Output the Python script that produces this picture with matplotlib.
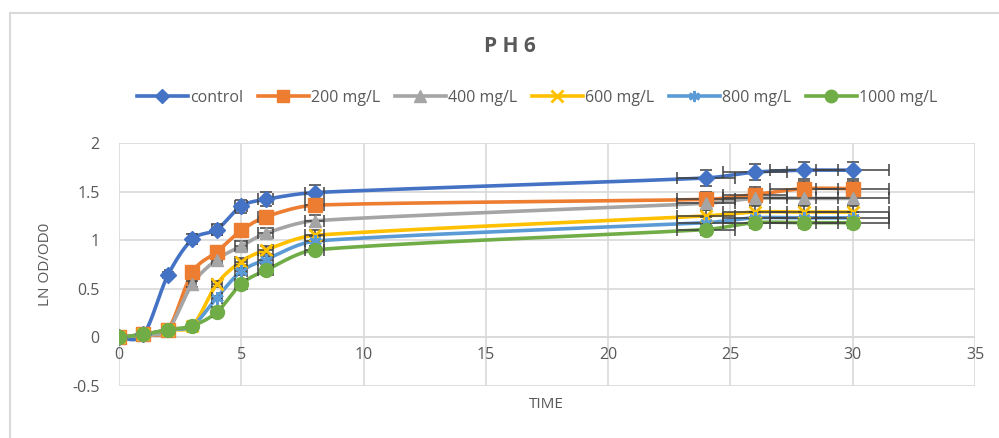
import numpy as np
import matplotlib
matplotlib.use('Agg')
import matplotlib.pyplot as plt
from matplotlib.patches import Rectangle

plt.rcParams['font.family'] = ['Open Sans', 'DejaVu Sans']

# temps (x) et valeurs
time = [0, 1, 2, 3, 4, 5, 6, 8, 24, 26, 28, 30]
control = [0, 0.03, 0.64, 1.01, 1.11, 1.35, 1.42, 1.49, 1.64, 1.70, 1.72, 1.72]
c200 = [0, 0.03, 0.08, 0.67, 0.88, 1.10, 1.24, 1.36, 1.42, 1.47, 1.53, 1.53]
c400 = [0, 0.03, 0.08, 0.55, 0.80, 0.94, 1.07, 1.20, 1.38, 1.43, 1.43, 1.43]
c600 = [0, 0.03, 0.08, 0.12, 0.55, 0.78, 0.90, 1.05, 1.25, 1.29, 1.29, 1.29]
c800 = [0, 0.03, 0.08, 0.12, 0.41, 0.68, 0.80, 0.99, 1.18, 1.23, 1.23, 1.23]
c1000 = [0, 0.03, 0.08, 0.12, 0.26, 0.55, 0.69, 0.90, 1.11, 1.18, 1.18, 1.18]

labels = ['control', '200 mg/L', '400 mg/L', '600 mg/L', '800 mg/L', '1000 mg/L']
series = [control, c200, c400, c600, c800, c1000]
colors = ['#4472C4', '#ED7D31', '#A5A5A5', '#FFC000', '#5B9BD5', '#70AD47']
markers = ['D', 's', '^', 'x', (6, 2, 0), 'o']
msizes = [8, 10, 9, 9, 9, 10]
err_pct = 0.05  # barres d'erreur 5 %


def smooth(x, y, n=20, t=0.5):
    # courbe lissee facon Excel (spline cardinale)
    x = np.asarray(x, float)
    y = np.asarray(y, float)
    px = np.concatenate([[x[0]], x, [x[-1]]])
    py = np.concatenate([[y[0]], y, [y[-1]]])
    xs, ys = [], []
    s = np.linspace(0, 1, n)
    for i in range(1, len(px) - 2):
        p0 = np.array([px[i], py[i]])
        p1 = np.array([px[i + 1], py[i + 1]])
        m0 = t * (np.array([px[i + 1], py[i + 1]]) - np.array([px[i - 1], py[i - 1]]))
        m1 = t * (np.array([px[i + 2], py[i + 2]]) - np.array([px[i], py[i]]))
        # limiter les tangentes pour eviter les depassements
        d = p1 - p0
        m0 = m0 * min(1, np.hypot(*d) / (np.hypot(*m0) + 1e-9))
        m1 = m1 * min(1, np.hypot(*d) / (np.hypot(*m1) + 1e-9))
        h00 = 2 * s**3 - 3 * s**2 + 1
        h10 = s**3 - 2 * s**2 + s
        h01 = -2 * s**3 + 3 * s**2
        h11 = s**3 - s**2
        pts = np.outer(h00, p0) + np.outer(h10, m0) + np.outer(h01, p1) + np.outer(h11, m1)
        xs.extend(pts[:, 0])
        ys.extend(pts[:, 1])
    return np.array(xs), np.array(ys)


fig = plt.figure(figsize=(9.99, 4.38), dpi=100)
fig.patches.append(Rectangle((10 / 999, -0.1), 1.1, (438 - 13) / 438 + 0.1, transform=fig.transFigure,
                             fill=False, edgecolor='#D9D9D9', linewidth=1.5))
ax = fig.add_axes([119 / 999, (438 - 386) / 438, (975 - 119) / 999, (386 - 143) / 438])

handles = []
for y, lab, col, mk, ms in zip(series, labels, colors, markers, msizes):
    sx, sy = smooth(time, y)
    ax.plot(sx, sy, color=col, linewidth=2.6, zorder=3, solid_capstyle='round')
    xa = np.array(time, float)
    ya = np.array(y, float)
    ax.errorbar(xa, ya, xerr=xa * err_pct, yerr=ya * err_pct, fmt='none', ecolor='#404040',
                elinewidth=1.1, capsize=4, capthick=1.1, zorder=4)
    mew = 2 if mk in ('x', (6, 2, 0)) else 1
    ax.plot(xa, ya, linestyle='none', marker=mk, markersize=ms, color=col,
            markeredgewidth=mew, zorder=5)
    h, = ax.plot([], [], color=col, linewidth=2.6, marker=mk, markersize=ms - 1,
                 markeredgewidth=mew)
    handles.append(h)

ax.set_xlim(0, 35)
ax.set_ylim(-0.5, 2)
ax.set_xticks(np.arange(0, 36, 5))
ax.set_yticks([-0.5, 0, 0.5, 1, 1.5, 2])
ax.set_yticklabels(['-0.5', '0', '0.5', '1', '1.5', '2'])
ax.grid(True, color='#D9D9D9', linewidth=1.2)
ax.set_axisbelow(True)
# axe x qui croise en y = 0 : les etiquettes suivent la ligne zero
ax.spines['bottom'].set_position(('data', 0))
for sp in ax.spines.values():
    sp.set_visible(False)
ax.axhline(0, color='#D9D9D9', linewidth=1.2, zorder=1)
ax.tick_params(axis='both', length=0, labelsize=11.5, labelcolor='#595959')
ax.tick_params(axis='y', pad=14)
ax.tick_params(axis='x', pad=7)

fig.text(546 / 999, 1 - 404 / 438, 'TIME', ha='center', va='center', fontsize=11, color='#595959')
ax.set_ylabel('LN OD/OD0', fontsize=11, color='#595959', labelpad=14)

fig.text(510 / 999, 1 - 47 / 438, 'P H 6', ha='center', va='center', fontsize=15, fontweight='bold',
         color='#595959')
fig.legend(handles, labels, loc='center', bbox_to_anchor=(537 / 999, 1 - 98 / 438), ncol=6,
           frameon=False, fontsize=11.5, handlelength=3.2, handletextpad=0.15, columnspacing=0.9,
           labelcolor='#595959')

plt.savefig('out.png', dpi=100)
